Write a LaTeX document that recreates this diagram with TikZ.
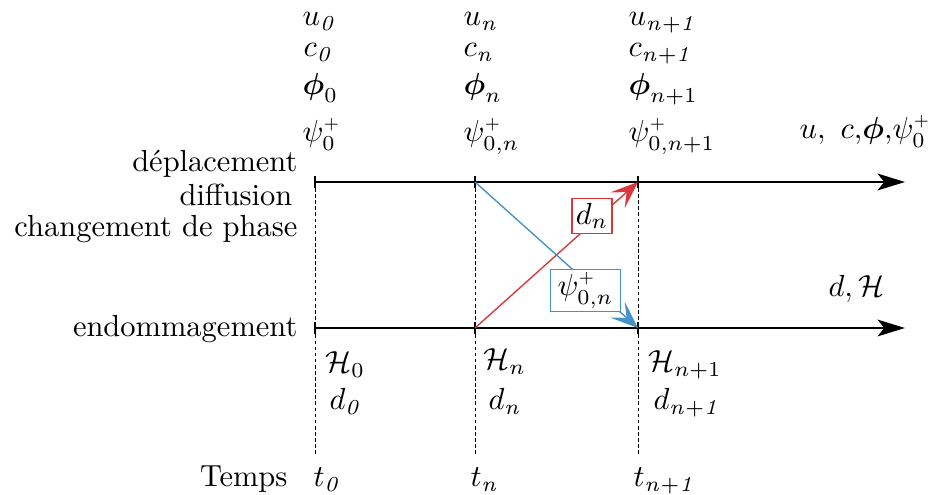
\documentclass[tikz,border=0pt]{standalone}
\usepackage{amsmath,amssymb}
\usetikzlibrary{arrows.meta}
\definecolor{myred}{RGB}{216,56,58}
\definecolor{myblue}{RGB}{70,145,200}
\newcommand{\psip}{\psi^{\scriptscriptstyle +}}
\begin{document}
\begin{tikzpicture}[x=0.328pt,y=-0.328pt,
  axis/.style={line width=0.7pt,-{Stealth[length=9pt,width=5.5pt,inset=2.2pt]}},
  tick/.style={line width=0.6pt},
  vdash/.style={line width=0.3pt,dash pattern=on 1.2pt off 0.8pt},
  lab/.style={inner sep=0pt,anchor=base west},
  llab/.style={inner sep=0pt,anchor=base east},
  cross/.style={line width=0.45pt,-{Stealth[length=9pt,width=7pt,inset=4pt]}},
  boxlab/.style={draw,fill=white,line width=0.5pt,inner sep=1pt}]
\useasboundingbox (0,0) rectangle (928,495);
% points on axes
\coordinate (a0) at (315,182);
\coordinate (an) at (475,182);
\coordinate (an1) at (638,182);
\coordinate (aend) at (905,182);
\coordinate (b0) at (315,328);
\coordinate (bn) at (475,328);
\coordinate (bn1) at (638,328);
\coordinate (bend) at (905,328);
\coordinate (c0) at (315,455);
\coordinate (cn) at (475,455);
\coordinate (cn1) at (638,455);
% dashed verticals
\draw[vdash] (a0) -- (c0);
\draw[vdash] (an) -- (cn);
\draw[vdash] (an1) -- (cn1);
% axes
\draw[axis] (a0) -- (aend);
\draw[axis] (b0) -- (bend);
% ticks
\foreach \p in {a0,an,an1,b0,bn,bn1}{
  \draw[tick] ([yshift=-6*0.328pt]\p) -- ([yshift=6*0.328pt]\p);
}
% crossing arrows
\draw[cross,myred] (bn) -- (an1);
\draw[cross,myblue] (an) -- (bn1);
\node[boxlab,draw=myred,minimum width=13pt,minimum height=11.5pt] (bd) at (592,216) {$d_n$};
\node[boxlab,draw=myblue,minimum width=23pt,minimum height=11.3pt] (bpsi) at (585.5,290.5) {$\psip_{0,n}$};
% top labels
\node[lab] (u0) at (302,26) {$u_{\mathit{0}}$};
\node[lab] (cc0) at (303,57) {$c_{\mathit{0}}$};
\node[lab] (p0) at (302,95) {$\boldsymbol{\phi}_0$};
\node[lab] (s0) at (302,142) {$\psip_{0}$};
\node[lab] (un) at (463,26) {$u_{\mathit{n}}$};
\node[lab] (ccn) at (463,57) {$c_{\mathit{n}}$};
\node[lab] (pn) at (463,95) {$\boldsymbol{\phi}_n$};
\node[lab] (sn) at (463,142) {$\psip_{0,n}$};
\node[lab] (un1) at (628,26) {$u_{\mathit{n+1}}$};
\node[lab] (ccn1) at (628,57) {$c_{\mathit{n+1}}$};
\node[lab] (pn1) at (628,95) {$\boldsymbol{\phi}_{n+1}$};
\node[lab] (sn1) at (628,142) {$\psip_{0,n+1}$};
% right labels
\node[lab] (rtop) at (799,139) {$u,\ c,\!\boldsymbol{\phi},\!\psip_{0}$};
\node[lab] (rbot) at (828,297) {$d,\mathcal{H}$};
% left labels
\node[llab] (l1) at (298,172) {déplacement};
\node[llab] (l2) at (293,206) {diffusion};
\node[llab] (l3) at (298,237) {changement de phase};
\node[llab] (l4) at (298,337) {endommagement};
% bottom labels
\node[lab] (H0) at (325,373) {$\mathcal{H}_0$};
\node[lab] (d0) at (329,410) {$d_{\mathit{0}}$};
\node[lab] (Hn) at (483,370) {$\mathcal{H}_n$};
\node[lab] (dn) at (488,410) {$d_{\mathit{n}}$};
\node[lab] (Hn1) at (648,372) {$\mathcal{H}_{n+1}$};
\node[lab] (dn1) at (653,410) {$d_{\mathit{n+1}}$};
\node[llab] (temps) at (288,487) {Temps};
\node[lab] (t0) at (313,487) {$t_{\mathit{0}}$};
\node[lab] (tn) at (470,487) {$t_{\mathit{n}}$};
\node[lab] (tn1) at (633,487) {$t_{\mathit{n+1}}$};
\end{tikzpicture}
\end{document}
